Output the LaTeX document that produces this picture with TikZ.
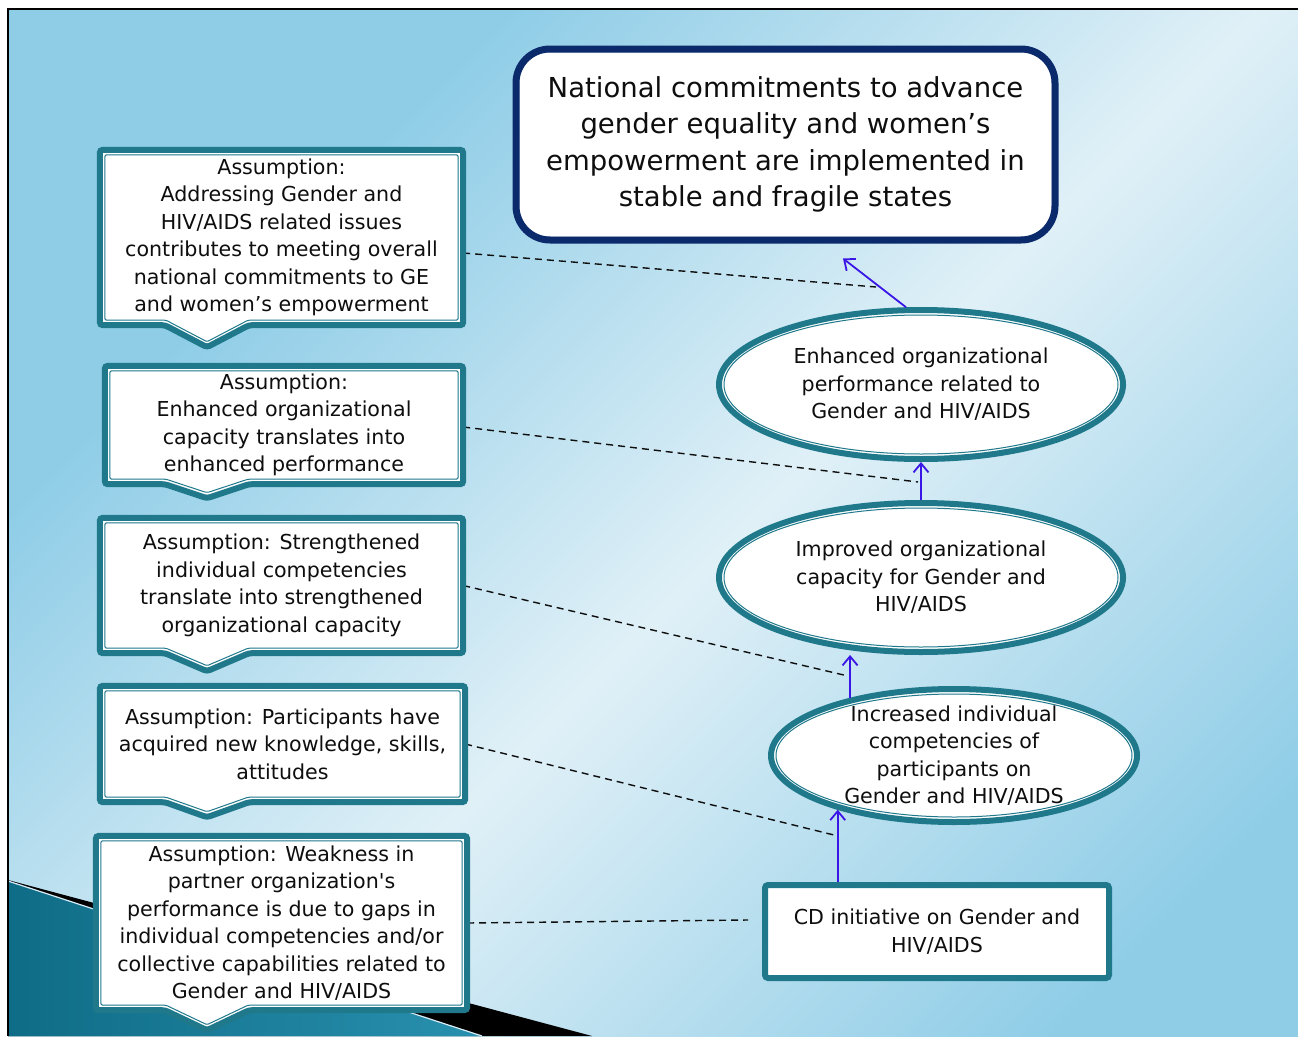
\documentclass[tikz,border=0pt]{standalone}
\usepackage{fontspec}
\setmainfont{DejaVu Sans}[Ligatures=TeXOff]
\usetikzlibrary{shapes.geometric,arrows.meta,calc}
\definecolor{bgblue}{HTML}{8FCDE7}
\definecolor{bglight}{HTML}{E0F0F7}
\definecolor{tealb}{HTML}{1F798B}
\definecolor{navyb}{HTML}{0A2A6C}
\definecolor{flowblue}{HTML}{3A16E6}
\definecolor{decoteal}{HTML}{2890AE}
\definecolor{decotealdark}{HTML}{0F6C86}
\definecolor{inktext}{HTML}{0E0E0E}
\pgfdeclarelayer{back}
\pgfdeclarelayer{mid}
\pgfsetlayers{back,mid,main}
\pgfdeclareverticalshading{bgshade}{100bp}{color(0bp)=(bgblue); color(22bp)=(bgblue); color(47bp)=(bglight); color(70bp)=(bgblue); color(100bp)=(bgblue)}
\tikzset{
  boxtext/.style={inner sep=0pt, align=center, text=inktext, font=\fontsize{20.6}{27.5}\selectfont},
  calloutnode/.style={boxtext, rectangle},
  callout/.style={fill=white, draw=tealb, line width=6pt, line join=miter, rounded corners=3pt},
  calloutin/.style={draw=tealb, line width=1pt, rounded corners=1.5pt},
  result/.style={ellipse, draw=tealb, line width=6pt, fill=white, inner sep=0pt},
  resultin/.style={draw=tealb, line width=1pt},
  cdbox/.style={boxtext, rectangle, draw=tealb, line width=6pt, fill=white, rounded corners=3pt},
  topbox/.style={rectangle, draw=navyb, line width=7pt, fill=white, rounded corners=34pt, inner sep=0pt, align=center, text=inktext, font=\fontsize{27.5}{36.5}\selectfont},
  flow/.style={draw=flowblue, line width=1.8pt, -{Straight Barb[length=9pt,width=15pt,line width=1.8pt]}},
  assume/.style={draw=inktext, line width=1.4pt, dash pattern=on 7pt off 5pt},
}
\newcommand\calloutshape[2]{%
  \path[callout] (#1.north west) -- (#1.north east) -- (#1.south east) -- (#1.south -| pR) -- ($(#1.south -| pC)+(0,#2)$) -- (#1.south -| pL) -- (#1.south west) -- cycle;
  \path[calloutin] ($(#1.north west)+(5,5)$) -- ($(#1.north east)+(-5,5)$) -- ($(#1.south east)+(-5,-5)$) -- ($(#1.south -| pR)+(-1,-5)$) -- ($(#1.south -| pC)+(0,#2-5.5)$) -- ($(#1.south -| pL)+(1,-5)$) -- ($(#1.south west)+(5,-5)$) -- cycle;
}
\begin{document}
\begin{tikzpicture}[x=1pt,y=-1pt]
\useasboundingbox (0,0) rectangle (1298,1036);
\begin{pgfonlayer}{back}
\fill[white] (0,0) rectangle (1298,1036);
\shade[shading=bgshade, shading angle=45] (8,9) rectangle (1298,1036);
\fill[black] (8,880) -- (592,1036) -- (8,1036) -- cycle;
\shade[left color=decotealdark, right color=decoteal] (8,881) -- (482,1036) -- (8,1036) -- cycle;
\draw[white!65!bgblue, line width=1.2pt] (8,881) -- (482,1036);
\draw[black, line width=2.5pt] (8,1036) -- (8,9) -- (1298,9);
\end{pgfonlayer}

\coordinate (pL) at (165,0);
\coordinate (pC) at (207,0);
\coordinate (pR) at (249,0);

% goal
\node[topbox, minimum width=539pt, minimum height=191pt] (goal) at (785.5,144.5)
  {National commitments to advance\\gender equality and women’s\\empowerment are implemented in\\stable and fragile states};
\draw[navyb, line width=1.2pt, rounded corners=29pt] ($(goal.north west)+(6,6)$) rectangle ($(goal.south east)+(-6,-6)$);

% assumptions
\node[calloutnode, minimum width=363pt, minimum height=175pt] (b1) at (281.5,237.5)
  {Assumption:\\Addressing Gender and\\HIV/AIDS related issues\\contributes to meeting overall\\national commitments to GE\\and women’s empowerment};
\node[calloutnode, minimum width=358pt, minimum height=118pt] (b2) at (284,425)
  {Assumption:\\Enhanced organizational\\capacity translates into\\enhanced performance};
\node[calloutnode, minimum width=363pt, minimum height=135pt] (b3) at (281.5,585.5)
  {Assumption: Strengthened\\individual competencies\\translate into strengthened\\organizational capacity};
\node[calloutnode, minimum width=365pt, minimum height=116pt] (b4) at (282.5,744)
  {Assumption: Participants have\\acquired new knowledge, skills,\\attitudes};
\node[calloutnode, minimum width=371pt, minimum height=174pt] (b5) at (281.5,923)
  {Assumption: Weakness in\\partner organization's\\performance is due to gaps in\\individual competencies and/or\\collective capabilities related to\\Gender and HIV/AIDS};

% results
\node[result, minimum width=404pt, minimum height=149pt] (e1) at (921,384.5) {};
\draw[resultin] (e1.center) ellipse [x radius=197pt, y radius=69.5pt];
\node[boxtext] (e1t) at (e1.center) {Enhanced organizational\\performance related to\\Gender and HIV/AIDS};
\node[result, minimum width=404pt, minimum height=149pt] (e2) at (921,577.5) {};
\draw[resultin] (e2.center) ellipse [x radius=197pt, y radius=69.5pt];
\node[boxtext] (e2t) at (e2.center) {Improved organizational\\capacity for Gender and\\HIV/AIDS};
\node[result, minimum width=366pt, minimum height=133pt] (e3) at (954,755.5) {};
\draw[resultin] (e3.center) ellipse [x radius=178pt, y radius=61.5pt];
\node[boxtext] (e3t) at (e3.center) {Increased individual\\competencies of\\participants on\\Gender and HIV/AIDS};

\node[cdbox, minimum width=344pt, minimum height=93pt] (cd) at (937,931.5) {CD initiative on Gender and\\HIV/AIDS};
\draw[tealb, line width=1pt, rounded corners=1.5pt] ($(cd.north west)+(5,5)$) rectangle ($(cd.south east)+(-5,-5)$);

% free ends
\coordinate (a1tip) at ($(goal.south)+(57.5,15)$);
\coordinate (d1e) at (876,287);
\coordinate (d2e) at (918,482);
\coordinate (d3e) at (848,676);
\coordinate (d4e) at (838,836);
\coordinate (d5e) at (748,920);

\begin{pgfonlayer}{mid}
\draw[assume] ($(b1.east)+(0,15.5)$) -- (d1e);
\draw[assume] ($(b2.east)+(0,2)$) -- (d2e);
\draw[assume] (b3.east) -- (d3e);
\draw[assume] (b4.east) -- (d4e);
\draw[assume] (b5.east) -- (d5e);
\calloutshape{b1}{22}
\calloutshape{b2}{14}
\calloutshape{b3}{18}
\calloutshape{b4}{15}
\calloutshape{b5}{20}
\end{pgfonlayer}

% flows
\draw[flow] (e1.101) -- (a1tip);
\draw[flow] (e2.north) -- (e1.south);
\draw[flow] (e3.151) -- (e3.151 |- e2.south);
\draw[flow] (e3.205 |- cd.north) -- (e3.205);
\end{tikzpicture}
\end{document}
